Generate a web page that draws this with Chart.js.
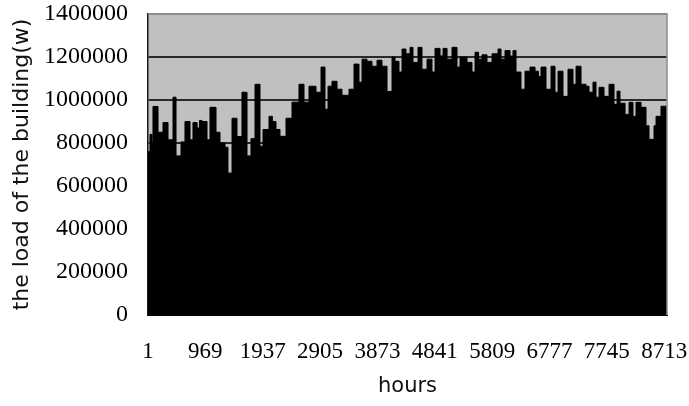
<!DOCTYPE html>
<html>
<head>
<meta charset="utf-8">
<script src="https://cdn.jsdelivr.net/npm/chart.js@4/dist/chart.umd.min.js"></script>
<style>
    html, body { margin: 0; padding: 0; background: #ffffff; }
    #wrap { width: 689px; height: 406px; }
</style>
</head>
<body>
<div id="wrap"><canvas id="loadChart" width="689" height="406"></canvas></div>
<script>
// hourly building load over one year, read as step segments (hour where a level starts, load in W)
var hours = [
    1, 35, 69, 85, 170, 254, 339, 423, 474, 558, 625, 710, 760, 830, 870, 912, 997, 1047, 1149,
    1216, 1301, 1351, 1419, 1503, 1587, 1672, 1739, 1807, 1891, 1942, 2043, 2100, 2161, 2229,
    2330, 2431, 2549, 2634, 2718, 2836, 2921, 2988, 3039, 3106, 3191, 3275, 3393, 3478, 3562,
    3613, 3697, 3781, 3866, 3950, 4035, 4119, 4170, 4237, 4288, 4355, 4423, 4473, 4558, 4625,
    4710, 4794, 4845, 4930, 4980, 5048, 5132, 5216, 5267, 5385, 5469, 5520, 5580, 5638, 5722,
    5807, 5908, 5959, 6026, 6111, 6161, 6212, 6296, 6364, 6448, 6533, 6590, 6634, 6718, 6803,
    6870, 6921, 7005, 7089, 7174, 7225, 7309, 7393, 7444, 7511, 7562, 7613, 7697, 7782, 7866,
    7917, 7967, 8052, 8119, 8186, 8237, 8322, 8406, 8456, 8541, 8575, 8659, 8760
];
var loads = [
    760000, 840000, 800000, 970000, 850000, 895000, 815000, 1013000, 740000, 805000, 900000,
    815000, 895000, 870000, 905000, 900000, 815000, 966000, 850000, 800000, 780000, 660000,
    915000, 830000, 1036000, 740000, 820000, 1073000, 785000, 863000, 924000, 900000, 863000,
    831000, 915000, 990000, 1073000, 990000, 1064000, 1036000, 1153000, 957000, 1064000,
    1087000, 1050000, 1022000, 1050000, 1167000, 1083000, 1190000, 1180000, 1157000, 1185000,
    1157000, 1040000, 1200000, 1180000, 1130000, 1237000, 1215000, 1245000, 1175000, 1245000,
    1143000, 1190000, 1130000, 1240000, 1205000, 1240000, 1190000, 1245000, 1153000, 1200000,
    1175000, 1130000, 1222000, 1190000, 1210000, 1175000, 1215000, 1237000, 1190000, 1230000,
    1204000, 1230000, 1130000, 1050000, 1134000, 1153000, 1134000, 1110000, 1153000, 1050000,
    1157000, 1036000, 1134000, 1017000, 1143000, 1073000, 1157000, 1073000, 1064000, 1036000,
    1083000, 1013000, 1059000, 1017000, 1073000, 980000, 1041000, 985000, 933000, 989000,
    924000, 989000, 966000, 880000, 817000, 880000, 924000, 971000, 971000
];
var hourTicks = [1, 969, 1937, 2905, 3873, 4841, 5809, 6777, 7745, 8713];
var loadTicks = [0, 200000, 400000, 600000, 800000, 1000000, 1200000, 1400000];

var points = hours.map(function (h, i) { return { x: h, y: loads[i] }; });

// grey plot background and the light frame on top/right
var plotFrame = {
    id: 'plotFrame',
    beforeDraw: function (chart) {
        const a = chart.chartArea;
        const ctx = chart.ctx;
        ctx.save();
        ctx.fillStyle = '#c0c0c0';
        ctx.fillRect(a.left, a.top, a.right - a.left, a.bottom - a.top);
        ctx.restore();
    },
    afterDatasetsDraw: function (chart) {
        const a = chart.chartArea;
        const ctx = chart.ctx;
        ctx.save();
        ctx.strokeStyle = '#8c8c8c';
        ctx.lineWidth = 1.5;
        ctx.beginPath();
        ctx.moveTo(a.left, a.top);
        ctx.lineTo(a.right, a.top);
        ctx.lineTo(a.right, a.bottom);
        ctx.stroke();
        ctx.restore();
    }
};

new Chart(document.getElementById('loadChart'), {
    type: 'line',
    data: {
        datasets: [{
            label: 'load',
            data: points,
            stepped: true,
            fill: 'origin',
            backgroundColor: '#000000',
            borderColor: '#000000',
            borderWidth: 1,
            pointRadius: 0
        }]
    },
    options: {
        responsive: false,
        animation: false,
        events: [],
        layout: { padding: { left: 0, right: 22, top: 14, bottom: 0 } },
        plugins: { legend: { display: false }, tooltip: { enabled: false } },
        scales: {
            x: {
                type: 'linear',
                min: 1,
                max: 8760,
                grid: { display: false },
                border: { display: true, color: '#000000' },
                afterBuildTicks: function (axis) {
                    axis.ticks = hourTicks.map(function (v) { return { value: v }; });
                },
                afterFit: function (axis) {
                    axis.height = 91;
                    axis.paddingLeft = 0;
                    axis.paddingRight = 0;
                },
                ticks: {
                    autoSkip: false,
                    maxRotation: 0,
                    padding: 15,
                    color: '#000000',
                    font: { family: 'Liberation Serif', size: 23 },
                    callback: function (v) { return String(v); }
                },
                title: {
                    display: true,
                    text: 'hours',
                    color: '#111111',
                    font: { family: 'DejaVu Sans', size: 21 },
                    padding: { top: 0, bottom: 7 }
                }
            },
            y: {
                min: 0,
                max: 1400000,
                afterBuildTicks: function (axis) {
                    axis.ticks = loadTicks.map(function (v) { return { value: v }; });
                },
                afterFit: function (axis) {
                    axis.width = 148;
                    axis.paddingTop = 0;
                    axis.paddingBottom = 0;
                },
                grid: {
                    drawTicks: false,
                    lineWidth: 2,
                    color: function (c) { return c.tick && c.tick.value === 1400000 ? '#8c8c8c' : '#2a2a2a'; }
                },
                border: { display: true, color: '#1a1a1a', width: 1.5 },
                ticks: {
                    padding: 20,
                    color: '#000000',
                    font: { family: 'Liberation Serif', size: 24 },
                    callback: function (v) { return String(v); }
                },
                title: {
                    display: true,
                    text: 'the load of the building(w)',
                    color: '#111111',
                    font: { family: 'DejaVu Sans', size: 22 },
                    padding: { top: 9, bottom: 0 }
                }
            }
        }
    },
    plugins: [plotFrame]
});
</script>
</body>
</html>
